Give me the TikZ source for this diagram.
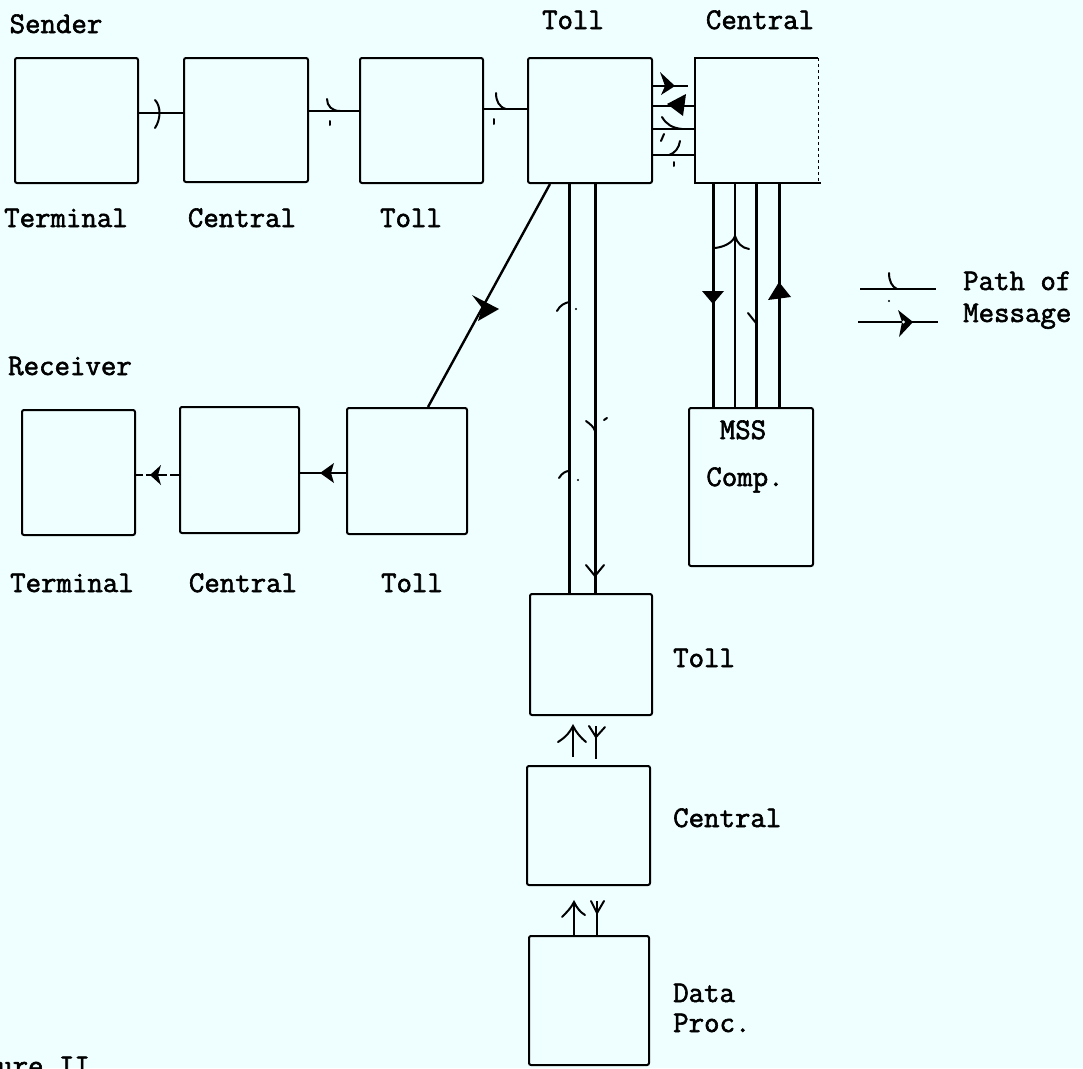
\documentclass[tikz,border=0pt]{standalone}
\usepackage{fontspec}
\setmonofont{Latin Modern Mono}[FakeBold=2]
\usetikzlibrary{calc}
\definecolor{bg}{RGB}{239,255,255}
\begin{document}
\begin{tikzpicture}[x=1pt,y=-1pt,
  box/.style={draw, line width=2pt, rectangle, rounded corners=2pt, inner sep=0pt},
  bare/.style={rectangle, inner sep=0pt},
  edge/.style={line width=2pt},
  lbl/.style={font=\ttfamily\fontsize{30}{32}\selectfont, inner sep=0pt, anchor=base},
  lblw/.style={lbl, anchor=base west},
  wire/.style={line width=2.4pt},
  wireb/.style={line width=3pt},
  mk/.style={line width=2pt, line cap=round},
  tri/.style={fill=black}
]
\fill[bg] (0,0) rectangle (1083,1068);
\useasboundingbox (0,0) rectangle (1083,1068);

% ---------- boxes ----------
\node[box, minimum width=123pt, minimum height=125pt] (t1) at (76.5,120.5) {};
\node[box, minimum width=124pt, minimum height=124pt] (c1) at (246,120) {};
\node[box, minimum width=123pt, minimum height=125pt] (l1) at (421.5,120.5) {};
\node[box, minimum width=124pt, minimum height=125pt] (l2) at (590,120.5) {};
\node[bare, minimum width=123pt, minimum height=125pt] (c2) at (756.5,120.5) {};
\draw[edge] (c2.north east) -- (c2.north west) -- (c2.south west) -- ([xshift=3pt]c2.south east);
\draw[line width=1.2pt, dash pattern=on 3pt off 3pt] (c2.north east) -- (c2.south east);

\node[box, minimum width=113pt, minimum height=125pt] (rt) at (78.5,472.5) {};
\node[box, minimum width=119pt, minimum height=126pt] (rc) at (239.5,470) {};
\node[box, minimum width=120pt, minimum height=126pt] (rl) at (407,471) {};
\node[box, minimum width=124pt, minimum height=158pt] (ms) at (751,487) {};

\node[box, minimum width=122pt, minimum height=121pt] (bt) at (591,654.5) {};
\node[box, minimum width=123pt, minimum height=119pt] (bc) at (588.5,825.5) {};
\node[box, minimum width=120pt, minimum height=129pt] (bd) at (589,1000.5) {};

% ---------- labels ----------
\node[lbl] (lsender) at (56,33) {Sender};
\node[lbl] (lterm1) at (66,227) {Terminal};
\node[lbl] (lcen1) at (242,227) {Central};
\node[lbl] (ltoll1) at (411,227) {Toll};
\node[lbl] (ltoll2) at (573,29) {Toll};
\node[lbl] (lcen2) at (760,29) {Central};
\node[lbl] (lrecv) at (70,375) {Receiver};
\node[lbl] (lterm2) at (72,592) {Terminal};
\node[lbl] (lcen3) at (243,592) {Central};
\node[lbl] (ltoll3) at (412,592) {Toll};
\node[lbl] (lmss) at (743,439) {MSS};
\node[lbl] (lcomp) at (745,486) {Comp.};
\node[lblw] (ltoll4) at (673,667) {Toll};
\node[lblw] (lcen4) at (673,827) {Central};
\node[lblw] (ldata) at (673,1002) {Data};
\node[lblw] (lproc) at (673,1032) {Proc.};
\node[lblw] (lpath) at (963,290) {Path of};
\node[lblw] (lmsg) at (963,322) {Message};
\node[lblw] (lfig) at (-3,1075) {ure II};

% ---------- top row connectors ----------
\draw[wire] ([yshift=7.5pt]t1.east) -- ([yshift=7pt]c1.west);
\draw[mk] (155,100) .. controls (161,106) and (161,119) .. (155,128);
\draw[wire] ([yshift=9pt]c1.east) -- ([yshift=9.5pt]l1.west);
\draw[mk] (327,99) .. controls (327,106) and (332,111) .. (340,111);
\draw[mk] (330,121) -- (330,125);
\draw[wire] ([yshift=11.5pt]l1.east) -- ([yshift=11.5pt]l2.west);
\draw[mk] (496,93) .. controls (496,101) and (499,107) .. (506,109);
\draw[mk] (494,119) -- (494,124);

% ---------- toll <-> central (top) ----------
\draw[wire] ([yshift=34.5pt]l2.east) -- ([yshift=34.5pt,xshift=-7pt]c2.west);
\fill (660,72) -- (675,86) -- (661,95) -- (665,86) -- cycle;
\draw[wire] ([yshift=14.5pt]l2.east) -- ([yshift=14.5pt]c2.west);
\fill (667,104) -- (686,94) -- (683,116) -- cycle;
\draw[wire] ([yshift=-8.5pt]l2.east) -- ([yshift=-8.5pt]c2.west);
\draw[mk] (662,117) .. controls (666,124) and (672,128) .. (682,129);
\draw[mk] (661,141) -- (664,134);
\draw[wire] ([yshift=-34.5pt]l2.east) -- ([yshift=-34.5pt]c2.west);
\draw[mk] (680,141) .. controls (679,148) and (675,153) .. (669,155);
\draw[mk] (674,162) -- (674,166);

% ---------- diagonal to receiver ----------
\draw[wire] ([xshift=-40pt]l2.south) -- ([xshift=21pt]rl.north);
\fill (472,295) -- (499,309) -- (478,321) -- (482,308) -- cycle;

% ---------- receiver row ----------
\draw[wire] ([yshift=-2pt]rl.west) -- ([yshift=-3pt]rc.east);
\fill (320,473) -- (334,463) -- (331,473) -- (334,483) -- cycle;
\draw[wire, dash pattern=on 9pt off 3pt] ([yshift=-5pt]rc.west) -- ([yshift=-2.5pt]rt.east);
\fill (150,475) -- (161,465) -- (158,475) -- (161,485) -- cycle;

% ---------- central (top) <-> MSS ----------
\draw[wireb] ([xshift=-43.5pt]c2.south) -- ([xshift=-38pt]ms.north);
\fill (702,291) -- (724,291) -- (713,304) -- cycle;
\draw[edge] ([xshift=-21.5pt]c2.south) -- ([xshift=-16pt]ms.north);
\draw[mk] (713,248) .. controls (722,248) and (733,243) .. (735,236) .. controls (737,243) and (742,248) .. (749,249);
\draw[wireb] ([xshift=-0.5pt]c2.south) -- ([xshift=5pt]ms.north);
\draw[mk] (748,313) -- (756,323);
\draw[wireb] ([xshift=22.5pt]c2.south) -- ([xshift=28pt]ms.north);
\fill (768,300) -- (791,297) -- (779,282) -- cycle;

% ---------- toll (top) <-> toll (bottom) ----------
\draw[wireb] ([xshift=-21pt]l2.south) -- ([xshift=-22pt]bt.north);
\draw[mk] (557,311) .. controls (560,305) and (565,303) .. (569,302);
\fill (576,309) circle (1.2pt);
\draw[mk] (559,478) .. controls (562,473) and (566,471) .. (569,471);
\fill (578,480) circle (1.2pt);
\draw[wireb] ([xshift=5pt]l2.south) -- ([xshift=4pt]bt.north);
\draw[mk] (586,421) .. controls (590,424) and (594,427) .. (595,431);
\draw[mk] (604,420) -- (607,418);
\draw[mk] (586,565) -- (595,576) -- (604,565);

% ---------- bottom column ----------
\draw[wire, shorten <=8pt, shorten >=11pt] ([xshift=-15.5pt]bc.north) -- ([xshift=-18pt]bt.south);
\draw[mk] (558,742) .. controls (566,737) and (570,732) .. (573,726) .. controls (576,732) and (580,737) .. (586,742);
\draw[wire, shorten <=10pt, shorten >=6pt] ([xshift=5pt]bt.south) -- ([xshift=7.5pt]bc.north);
\draw[mk] (589,726) -- (596,737) -- (605,727);

\draw[wire, shorten >=17pt] ([xshift=-15pt]bd.north) -- ([xshift=-14.5pt]bc.south);
\draw[mk] (562,917) .. controls (567,912) and (571,908) .. (574,902) .. controls (577,908) and (580,912) .. (585,915);
\draw[wire, shorten <=15pt] ([xshift=8.5pt]bc.south) -- ([xshift=8pt]bd.north);
\draw[mk] (591,901) -- (597,913) -- (604,901);

% ---------- legend ----------
\coordinate (g1a) at (860,289);
\coordinate (g1b) at (936,289);
\coordinate (g2a) at (858,322);
\coordinate (g2b) at (938,322);
\draw[wire] (g1a) -- (g1b);
\draw[mk] (889,273) .. controls (889,281) and (892,287) .. (897,289);
\fill (889,301) circle (1.2pt);
\draw[wire] (g2a) -- (g2b);
\fill (898,310) -- (913,322) -- (899,337) -- (902,322) -- cycle;
\fill[bg] (903.5,322) circle (1.6pt);
\end{tikzpicture}
\end{document}
